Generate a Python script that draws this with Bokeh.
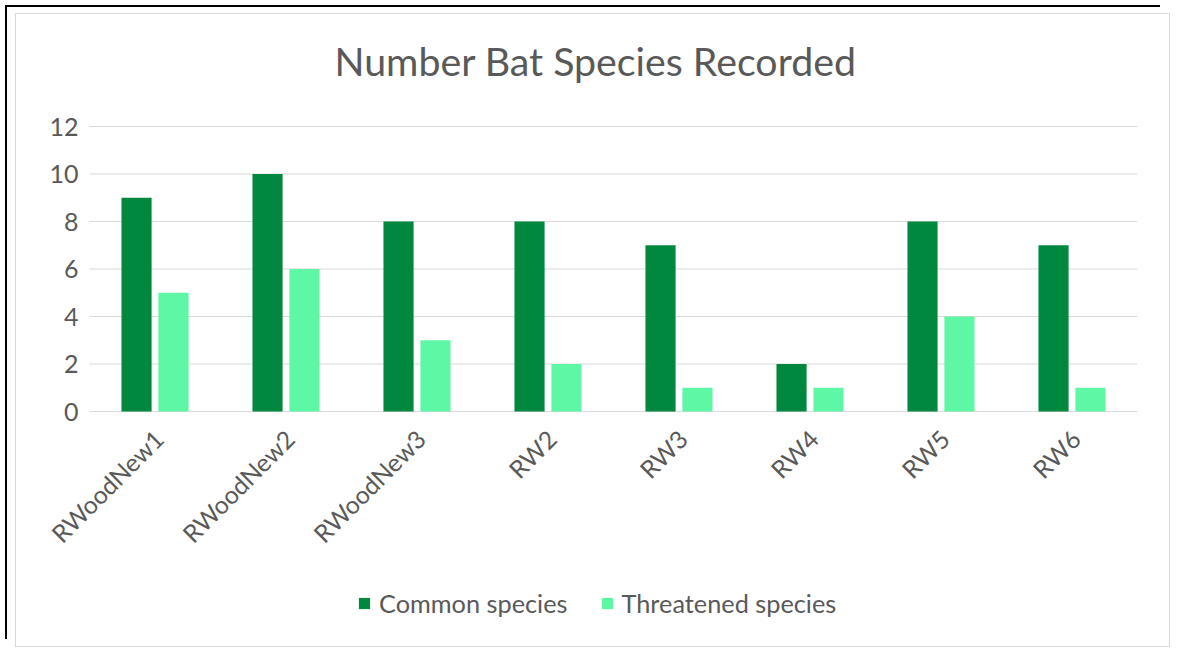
import math
from bokeh.plotting import figure
from bokeh.models import ColumnDataSource, Range1d, Legend, LegendItem, Title
from bokeh.core.properties import value
from bokeh.transform import dodge
from bokeh.embed import file_html
from bokeh.resources import INLINE

sites = ["RWoodNew1", "RWoodNew2", "RWoodNew3", "RW2", "RW3", "RW4", "RW5", "RW6"]
common = [9, 10, 8, 8, 7, 2, 8, 7]
threatened = [5, 6, 3, 2, 1, 1, 4, 1]
y_ticks = [0, 2, 4, 6, 8, 10, 12]
y_tick_labels = ["0", "2", "4", "6", "8", "10", "12"]
title_text = "Number Bat Species Recorded"
series_names = ["Common species", "Threatened species"]

DARK = "#00883E"
LIGHT = "#5EF7A6"
TXT = "#595959"
GRID = "#D9D9D9"
FONT = "Lato"

# layout (pixels)
UNIT_PX = 131           # width of one category band
LEFT_PX = 73            # room left of the first band for tick labels
VALUE_PX = 285          # height of the 0..12 value band
TOP_PX = 16             # room above the top gridline for its label
BELOW_PX = 235          # room under the zero line for labels and legend
n = len(sites)
px_per_unit = VALUE_PX / 12.0

xpos = [i + 0.5 for i in range(n)]   # category centres
source = ColumnDataSource(dict(x=xpos, site=sites, common=common, threatened=threatened))
ticks = ColumnDataSource(dict(y=y_ticks, label=y_tick_labels,
                              x0=[0] * len(y_ticks), x1=[n] * len(y_ticks)))

p = figure(
    x_range=Range1d(-LEFT_PX / UNIT_PX, n),
    y_range=Range1d(-BELOW_PX / px_per_unit, 12 + TOP_PX / px_per_unit),
    frame_width=n * UNIT_PX + LEFT_PX, frame_height=VALUE_PX + BELOW_PX + TOP_PX,
    output_backend="svg", toolbar_location=None,
    min_border_left=0, min_border_right=32, min_border_top=112 - TOP_PX, min_border_bottom=0,
    outline_line_color=None,
)
p.styles = {"margin-left": "15px", "margin-top": "13px",
            "border": "1px solid #D9D9D9",
            "box-shadow": "-8px -6px 0 0 #fff, -10px -8px 0 0 #000"}

p.xaxis.visible = False
p.yaxis.visible = False
p.xgrid.visible = False
p.ygrid.visible = False

# horizontal gridlines across the category bands
p.segment(x0="x0", x1="x1", y0="y", y1="y", source=ticks, line_color=GRID, line_width=1)

# value tick labels
p.text(x=0, y="y", text="label", source=ticks, x_offset=-11,
       text_align="right", text_baseline="middle",
       text_font=value(FONT), text_font_size="25px", text_color=TXT)

r1 = p.vbar(x=dodge("x", -0.141), top="common", width=0.23,
            source=source, fill_color=DARK, line_color=None)
r2 = p.vbar(x=dodge("x", 0.141), top="threatened", width=0.23,
            source=source, fill_color=LIGHT, line_color=None)

# category labels, rotated 45 degrees under the zero line
p.text(x="x", y=0, text="site", source=source, angle=math.pi / 4,
       x_offset=4, y_offset=23, text_align="right", text_baseline="middle",
       text_font=value(FONT), text_font_size="24.7px", text_color=TXT)

# title (spacer first so it sits between the title and the plot area)
p.add_layout(Title(text=" ", text_font_size="1px", standoff=40 - TOP_PX), "above")
p.add_layout(Title(text=title_text, align="left", offset=318, standoff=0,
                   text_font=FONT, text_font_size="39.3px", text_font_style="normal",
                   text_color=TXT), "above")

legend = Legend(
    items=[LegendItem(label=series_names[0], renderers=[r1]),
           LegendItem(label=series_names[1], renderers=[r2])],
    orientation="horizontal", location=(341, 28),
    label_text_font=FONT, label_text_font_size="25.3px", label_text_color=TXT,
    glyph_width=14, glyph_height=14, label_standoff=8, spacing=32, padding=0,
    border_line_color=None, background_fill_alpha=0, margin=0,
)
p.add_layout(legend, "center")

open("out.html", "w").write(file_html(p, INLINE))
